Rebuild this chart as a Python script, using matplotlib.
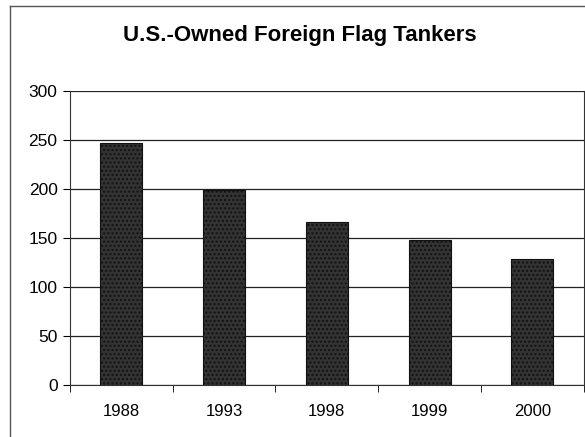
import matplotlib
matplotlib.use("Agg")
from matplotlib import pyplot as plt
from matplotlib.lines import Line2D
import numpy as np

plt.rcParams['font.family'] = ['Liberation Sans', 'DejaVu Sans']
plt.rcParams['hatch.color'] = "#777777"

years = ["1988", "1993", "1998", "1999", "2000"]
tankers = [247, 199, 166, 148, 129]

fig = plt.figure(figsize=(5.85, 4.37), dpi=100)
ax = fig.add_axes([0.1197, 0.119, 0.878, 0.673])

x = np.arange(len(years))
ax.bar(x, tankers, width=0.41, color="#333333", edgecolor="#111111",
       linewidth=0.8, hatch="....", zorder=3)

ax.set_xlim(-0.5, len(years) - 0.5)
ax.set_ylim(0, 300)
ax.set_yticks(range(0, 301, 50))
ax.yaxis.grid(True, color="#222222", linewidth=0.9, zorder=0)

ax.set_xticks(x)
ax.set_xticklabels(years)
ax.set_xticks(np.arange(-0.5, len(years)), minor=True)
ax.tick_params(axis="x", which="major", length=0, labelsize=12, pad=14)
ax.tick_params(axis="x", which="minor", length=5, direction="out")
ax.tick_params(axis="y", length=5, direction="out", labelsize=12.5, pad=4)

for side in ["left", "bottom", "right"]:
    ax.spines[side].set_color("#333333")
ax.spines["top"].set_visible(False)

fig.text(0.513, 0.918, "U.S.-Owned Foreign Flag Tankers", ha="center",
         va="center", fontsize=16, fontweight="bold")

# outer chart frame
fig.add_artist(Line2D([0.017, 0.017], [0.0, 0.986], color="#555555", lw=1))
fig.add_artist(Line2D([0.017, 1.0], [0.986, 0.986], color="#555555", lw=1))

fig.savefig("out.png", dpi=100)
